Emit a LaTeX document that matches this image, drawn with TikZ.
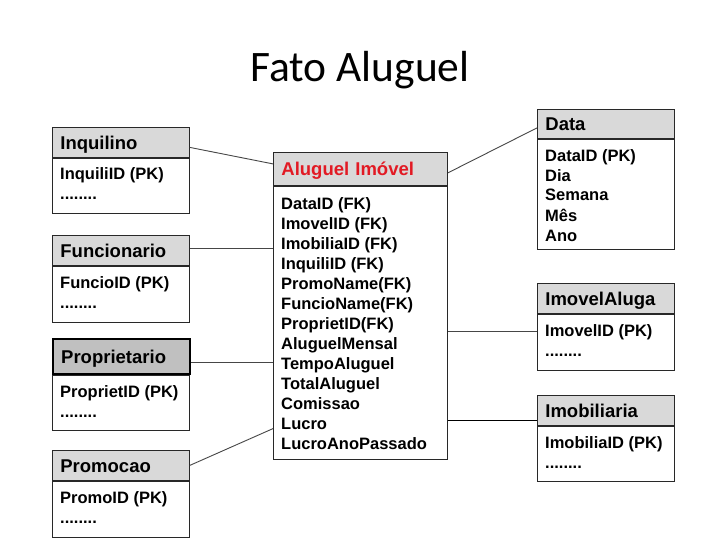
\documentclass[tikz,border=0pt]{standalone}
\usepackage{fontspec}
\setmainfont{Liberation Sans}
\newfontfamily\titlefont{Carlito}
\usetikzlibrary{calc}
\definecolor{hdrgray}{RGB}{217,217,217}
\definecolor{progray}{RGB}{192,192,192}
\definecolor{alured}{RGB}{226,26,36}
\definecolor{boxline}{RGB}{40,40,40}
\definecolor{connline}{RGB}{70,70,70}
\newcommand{\hdrfont}{\fontsize{18.5}{22}\selectfont\bfseries}
\newcommand{\fldfont}{\fontsize{16.5}{20}\selectfont\bfseries}
\begin{document}
\begin{tikzpicture}[x=1pt,y=-1pt,
  hdr/.style={draw=boxline, line width=0.8pt, fill=hdrgray, anchor=north west,
    inner xsep=8pt, inner ysep=0pt, text width=121pt, align=left,
    text height=13.3pt, text depth=0pt, minimum height=30pt, font=\hdrfont},
  bodybox/.style={draw=boxline, line width=0.8pt, fill=white, anchor=north west,
    minimum width=137pt, inner sep=0pt},
  fld/.style={anchor=north west, inner sep=0pt, align=left, font=\fldfont},
  conn/.style={draw=connline, line width=0.9pt}]
\fill[white] (0,0) rectangle (720,540);
\useasboundingbox (0,0) rectangle (720,540);

\node[font=\titlefont\fontsize{43.5}{50}\selectfont, anchor=base] (title) at (360,82) {Fato Aluguel};

% left column
\node[hdr] (inq-h) at (52,127) {Inquilino};
\node[bodybox, minimum height=55pt] (inq-b) at (inq-h.south west) {};
\node[fld] (inq-f) at ($(inq-b.north west)+(8,8)$) {\strut InquiliID (PK)\\........};

\node[hdr] (fun-h) at (52,235) {Funcionario};
\node[bodybox, minimum height=56pt] (fun-b) at (fun-h.south west) {};
\node[fld] (fun-f) at ($(fun-b.north west)+(8,8)$) {\strut FuncioID (PK)\\........};

\node[hdr, fill=progray, draw=black, line width=2.4pt, minimum height=35pt] (pro-h) at (52,338) {Proprietario};
\node[bodybox, minimum height=55pt] (pro-b) at (pro-h.south west) {};
\node[fld] (pro-f) at ($(pro-b.north west)+(8,8)$) {\strut ProprietID (PK)\\........};

\node[hdr] (prm-h) at (52,450) {Promocao};
\node[bodybox, minimum height=56pt] (prm-b) at (prm-h.south west) {};
\node[fld] (prm-f) at ($(prm-b.north west)+(8,8)$) {\strut PromoID (PK)\\........};

% centre fact table
\node[hdr, text=alured, text width=158pt, minimum height=33pt] (alu-h) at (273,152) {Aluguel Imóvel};
\node[bodybox, minimum width=174pt, minimum height=273pt] (alu-b) at (alu-h.south west) {};
\node[fld] (alu-f) at ($(alu-b.north west)+(8,9)$) {\strut DataID (FK)\\ImovelID (FK)\\ImobiliaID (FK)\\InquiliID (FK)\\PromoName(FK)\\FuncioName(FK)\\ProprietID(FK)\\AluguelMensal\\TempoAluguel\\TotalAluguel\\Comissao\\Lucro\\LucroAnoPassado};

% right column
\node[hdr, minimum height=29pt] (dat-h) at (537,109) {Data};
\node[bodybox, minimum height=110pt] (dat-b) at (dat-h.south west) {};
\node[fld] (dat-f) at ($(dat-b.north west)+(8,8)$) {\strut DataID (PK)\\Dia\\Semana\\Mês\\Ano};

\node[hdr] (ima-h) at (537,283) {ImovelAluga};
\node[bodybox, minimum height=56pt] (ima-b) at (ima-h.south west) {};
\node[fld] (ima-f) at ($(ima-b.north west)+(8,8)$) {\strut ImovelID (PK)\\........};

\node[hdr] (imo-h) at (537,395) {Imobiliaria};
\node[bodybox, minimum height=55pt] (imo-b) at (imo-h.south west) {};
\node[fld] (imo-f) at ($(imo-b.north west)+(8,8)$) {\strut ImobiliaID (PK)\\........};

% connectors
\draw[conn] ($(inq-h.east)+(0,5)$) -- ($(alu-h.west)+(0,-5)$);
\draw[conn] ($(fun-h.east)+(0,-2)$) coordinate (fa) -- (fa -| alu-b.west);
\draw[conn] ($(pro-h.east)+(0,6)$) coordinate (pa) -- (pa -| alu-b.west);
\draw[conn] (prm-h.east) -- ($(alu-b.south west)+(0,-31)$);
\draw[conn] ($(alu-h.east)+(0,4)$) -- ($(dat-h.west)+(0,4)$);
\draw[conn] ($(ima-b.north west)+(0,18)$) coordinate (ia) -- (ia -| alu-b.east);
\draw[conn, draw=black, line width=1.8pt] ($(imo-h.west)+(0,10)$) coordinate (ib) -- (ib -| alu-b.east);
\end{tikzpicture}
\end{document}
